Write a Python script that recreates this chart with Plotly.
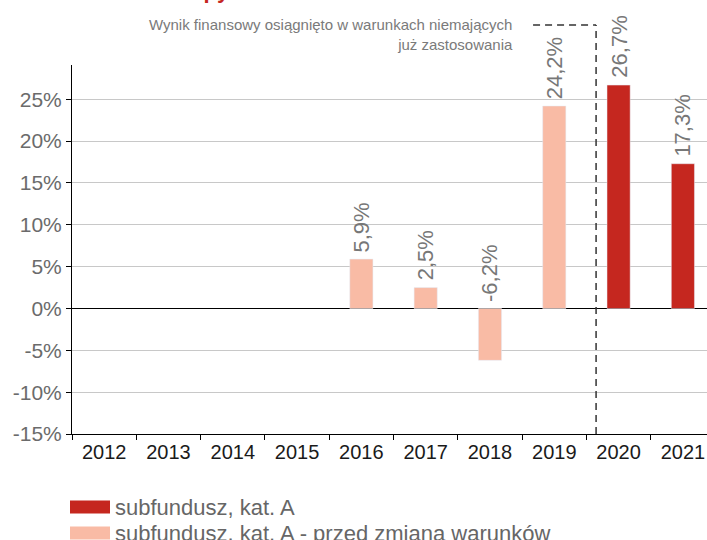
import plotly.graph_objects as go

years = ["2012", "2013", "2014", "2015", "2016", "2017", "2018", "2019", "2020", "2021"]
series_names = ["subfundusz, kat. A", "subfundusz, kat. A - przed zmianą warunków"]
kat_a = [None, None, None, None, None, None, None, None, 26.7, 17.3]
kat_a_before = [None, None, None, None, 5.9, 2.5, -6.2, 24.2, None, None]
y_ticks = [-15, -10, -5, 0, 5, 10, 15, 20, 25]
y_tick_labels = ["-15%", "-10%", "-5%", "0%", "5%", "10%", "15%", "20%", "25%"]
note_text = "Wynik finansowy osiągnięto w warunkach niemających<br>już zastosowania"
title_text = "Stopy zwrotu"

RED = "#C5271F"
PINK = "#F9BBA5"
FONT = "Liberation Sans, Arial, sans-serif"

W, H = 707, 540
PLOT_L, PLOT_R, PLOT_T, PLOT_B = 72, 707, 65, 434  # px
ML, MR, MT, MB = PLOT_L, W - PLOT_R, PLOT_T, H - PLOT_B


def py2paper(py):
    return (PLOT_B - py) / (PLOT_B - PLOT_T)


def px2paper(px):
    return (px - PLOT_L) / (PLOT_R - PLOT_L)


fig = go.Figure()
fig.add_trace(go.Bar(x=years, y=kat_a_before, name=series_names[1], marker_color=PINK,
                     width=0.36, showlegend=False))
fig.add_trace(go.Bar(x=years, y=kat_a, name=series_names[0], marker_color=RED,
                     width=0.36, showlegend=False))

annotations = []
for series in (kat_a_before, kat_a):
    for i, v in enumerate(series):
        if v is None:
            continue
        annotations.append(dict(
            x=i, y=max(v, 0), xref="x", yref="y",
            text=f"{v:.1f}%".replace(".", ","), textangle=-90,
            showarrow=False, yanchor="bottom", xanchor="center", yshift=5,
            font=dict(family=FONT, size=22, color="#777777")))

annotations.append(dict(
    x=6.39, y=py2paper(14), xref="x", yref="paper", text=note_text,
    showarrow=False, xanchor="right", yanchor="top", align="right",
    font=dict(family=FONT, size=15, color="#7a7a7a")))

annotations.append(dict(
    x=px2paper(166), y=py2paper(5), xref="paper", yref="paper", text="<b>" + title_text + "</b>",
    showarrow=False, xanchor="left", yanchor="bottom",
    font=dict(family=FONT, size=22, color=RED)))

# manual legend
leg_rows = [(series_names[0], RED, 507), (series_names[1], PINK, 533)]
shapes = []
for name, col, cy in leg_rows:
    shapes.append(dict(type="rect", xref="paper", yref="paper",
                       x0=px2paper(70), x1=px2paper(110),
                       y0=py2paper(cy + 6.5), y1=py2paper(cy - 6.5),
                       fillcolor=col, line=dict(width=0)))
    annotations.append(dict(x=px2paper(113), y=py2paper(cy), xref="paper", yref="paper",
                            text=name, showarrow=False, xanchor="left", yanchor="middle",
                            font=dict(family=FONT, size=22, color="#666666")))

# dashed separator
DASH = "7px,5px"
shapes.append(dict(type="line", xref="x", yref="paper", x0=7.65, x1=7.65,
                   y0=0, y1=py2paper(25), line=dict(color="#333333", width=1.5, dash=DASH)))
shapes.append(dict(type="line", xref="x", yref="paper", x0=6.67, x1=7.65,
                   y0=py2paper(25), y1=py2paper(25), line=dict(color="#333333", width=1.5, dash=DASH)))

fig.update_layout(
    width=W, height=H,
    margin=dict(l=ML, r=MR, t=MT, b=MB, autoexpand=False),
    paper_bgcolor="white", plot_bgcolor="white",
    barmode="overlay",
    showlegend=False,
    annotations=annotations,
    shapes=shapes,
    font=dict(family=FONT),
)
fig.update_xaxes(
    type="category", range=[-0.5, 9.375], automargin=False,
    showline=True, linecolor="black", linewidth=1,
    ticks="outside", tickson="boundaries", ticklen=5, tickcolor="black",
    tickfont=dict(family=FONT, size=20, color="#1a1a1a"),
    showgrid=False, zeroline=False,
)
fig.update_yaxes(
    range=[-15, 29.1], tickvals=y_ticks, ticktext=y_tick_labels, automargin=False,
    showline=True, linecolor="black", linewidth=1,
    ticks="outside", ticklen=5, tickcolor="black",
    tickfont=dict(family=FONT, size=21, color="#6b6b6b"),
    showgrid=True, gridcolor="#c8c8c8", gridwidth=1,
    zeroline=True, zerolinecolor="black", zerolinewidth=1,
)
fig.update_traces(cliponaxis=False)

fig.write_html(
    "out.html",
    config={"displayModeBar": False},
    post_script="document.body.style.margin='0';document.body.style.overflow='hidden';",
)
